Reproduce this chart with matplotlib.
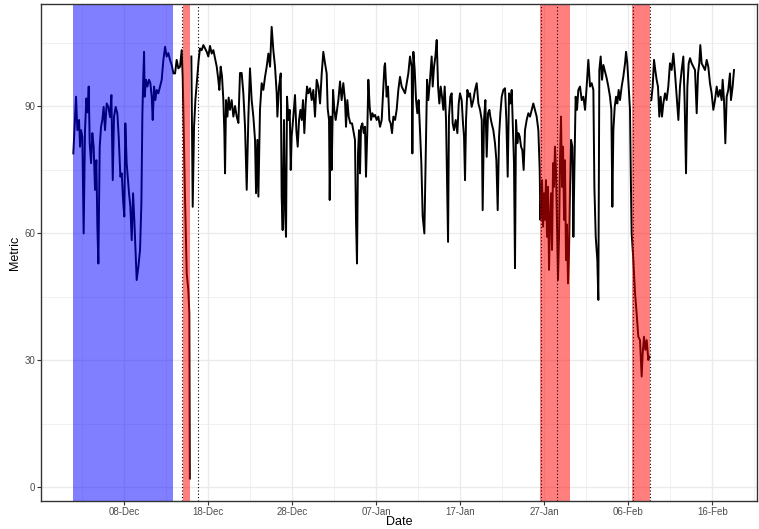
import matplotlib
matplotlib.use("Agg")
import matplotlib.pyplot as plt
import matplotlib.dates as mdates
import numpy as np
import pandas as pd

# time axis as days from 08-Dec, metric (nan = gap in series)
base_date = pd.Timestamp("2019-12-08")

day_offset = [
    -6.07, -5.75, -5.59, -5.39, -5.27, -5.15, -5.00, -4.84, -4.68, -4.52, -4.36, -4.24,
    -4.12, -3.96, -3.81, -3.65, -3.49, -3.33, -3.21, -3.09, -2.93, -2.77, -2.62, -2.46,
    -2.30, -2.10, -1.90, -1.70, -1.54, -1.38, -1.23, -1.03, -0.83, -0.67, -0.47, -0.31,
    -0.15, 0.00, 0.12, 0.28, 0.44, 0.56, 0.72, 0.88, 1.04, 1.19, 1.35, 1.47, 1.67, 1.87,
    2.03, 2.15, 2.27, 2.35, 2.42, 2.58, 2.74, 2.94, 3.10, 3.26, 3.38, 3.54, 3.69, 3.85,
    4.05, 4.25, 4.45, 4.65, 4.85, 5.04, 5.24, 5.44, 5.64, 5.84,
    6.04, 6.23, 6.43, 6.63, 6.83, 6.95, 7.23, 7.43, 7.62, 7.74, 7.80, 7.86,
    7.98, 8.14, 8.30, 8.46, 8.62, 8.85, 9.01, 9.21, 9.41, 9.61, 9.81, 10.00, 10.20, 10.40,
    10.60, 10.80, 11.00, 11.19, 11.31, 11.47, 11.63, 11.79, 11.91, 11.99, 12.11, 12.27,
    12.42, 12.58, 12.78, 12.98, 13.18, 13.38, 13.58, 13.77, 13.97, 14.17, 14.37, 14.57,
    14.77, 14.96, 15.16, 15.36, 15.56, 15.68, 15.84, 15.96, 16.15, 16.35, 16.55, 16.75,
    16.95, 17.15, 17.35, 17.54, 17.74, 17.94, 18.14, 18.22,
    18.42, 18.62, 18.73, 18.85, 19.01, 19.13, 19.25, 19.37, 19.53, 19.69, 19.81, 19.92,
    20.12, 20.32, 20.48, 20.64, 20.80, 20.96, 21.12, 21.27, 21.43, 21.59, 21.75, 21.91,
    22.11, 22.31, 22.50, 22.70, 22.90, 23.10, 23.30, 23.50, 23.69, 23.89, 24.09, 24.21,
    24.37, 24.45, 24.57, 24.69, 24.85, 25.00, 25.16, 25.32, 25.48, 25.68, 25.87, 26.07,
    26.27, 26.39, 26.55, 26.71, 26.91, 27.11, 27.31, 27.46, 27.58, 27.70, 27.82, 27.94,
    28.06, 28.18, 28.34, 28.50, 28.65, 28.77, 28.93, 29.05, 29.21, 29.37, 29.53, 29.69,
    29.85, 30.04, 30.24, 30.44, 30.64, 30.84, 30.96,
    31.04, 31.23, 31.39, 31.55, 31.71, 31.87, 32.03, 32.23, 32.42, 32.62, 32.82, 33.02,
    33.22, 33.42, 33.62, 33.81, 34.01, 34.21, 34.29, 34.41, 34.57, 34.73, 34.88, 35.04,
    35.20, 35.36, 35.52, 35.72, 35.88, 36.04, 36.19, 36.39, 36.59, 36.71, 36.87, 37.03,
    37.19, 37.35, 37.50, 37.66, 37.82, 37.98, 38.14, 38.30, 38.42, 38.54, 38.65, 38.81,
    38.97, 39.09, 39.25, 39.45, 39.65, 39.81, 39.96, 40.16, 40.32, 40.44, 40.56, 40.68,
    40.84, 41.00, 41.15, 41.35, 41.55, 41.75, 41.95, 42.15, 42.35, 42.55, 42.66, 42.82,
    42.98, 43.14, 43.30, 43.46,
    43.57, 43.73, 43.93, 44.13, 44.29, 44.45, 44.61, 44.77, 44.93, 45.12, 45.32, 45.48,
    45.64, 45.80, 45.96, 46.12, 46.27, 46.39, 46.51, 46.63, 46.79, 46.91, 47.07, 47.23,
    47.38, 47.54, 47.70, 47.90, 48.10, 48.30, 48.50, 48.69, 48.89, 49.09, 49.29, 49.45,
    49.53, 49.61, 49.73, 49.85, 49.96, 50.08, 50.20, 50.32, 50.44, 50.56, 50.68, 50.80,
    50.92, 51.04, 51.15, 51.27, 51.39, 51.51, 51.63, 51.75, 51.87, 51.99, 52.11, 52.23,
    52.35, 52.46, 52.58, 52.70, 52.82, 52.94, 53.06, 53.18, 53.34, 53.46, 53.58, 53.73,
    53.89, 54.05, 54.25, 54.45, 54.65,
    54.85, 55.04, 55.24, 55.44, 55.64, 55.84, 55.96, 56.12, 56.31, 56.43, 56.55, 56.71,
    56.87, 57.03, 57.23, 57.42, 57.62, 57.82, 57.98, 58.10, 58.22, 58.38, 58.54, 58.69,
    58.85, 59.01, 59.21, 59.41, 59.61, 59.73, 59.88, 60.04, 60.20, 60.32, 60.40, 60.60,
    60.80, 60.99, 61.19, 61.39, 61.59, 61.71, 61.87, 62.03, 62.19, 62.38, 62.50, 62.55,
    62.74, 62.90, 63.06, 63.21, 63.37, 63.53, 63.69, 63.85, 64.01, 64.17, 64.37, 64.56,
    64.76,
    64.96, 65.16, 65.36, 65.56, 65.76, 65.96, 66.15, 66.35, 66.55, 66.71, 66.87, 67.03,
    67.19, 67.35, 67.54, 67.74, 67.94, 68.14, 68.30, 68.45, 68.57, 68.73, 68.93, 69.13,
    69.33, 69.52, 69.72, 69.92, 70.12, 70.32, 70.52, 70.71, 70.91, 71.11, 71.23, 71.39,
    71.55, 71.71, 71.90, 72.10, 72.22, 72.42, 72.58,
]

metric = [
    78.8, 92.2, 84.3, 86.7, 80.4, 84.3, 82.8, 59.9, 84.3, 91.8, 88.5, 94.6,
    81.2, 76.5, 83.6, 80.4, 70.2, 77.2, 61.5, 52.8, 80.4, 85.1, 86.7, 89.8,
    84.3, 90.6, 89.8, 87.4, 92.6, 72.5, 87.4, 89.8, 88.2, 82.8, 73.3, 74.1,
    67.8, 63.9, 85.9, 76.5, 72.5, 69.4, 66.2, 58.3, 69.4, 63.1, 55.2, 48.9, 52.0, 56.0,
    67.0, 88.2, 97.7, 102.8, 92.2, 96.2, 94.6, 96.2, 95.4, 92.2, 86.7, 94.6, 91.4, 93.8,
    93.0, 94.6, 96.2, 100.9, 104.0, 101.7, 102.5, 100.9, 99.7, 97.7,
    97.7, 100.9, 98.9, 99.3, 103.2, 96.9, 67.8, 50.4, 46.5, 41.0, 2.0, np.nan,
    101.7, 66.2, 85.1, 91.4, 95.4, 100.9, 103.6, 103.2, 104.4, 103.6, 102.8, 101.7, 104.2, 102.4,
    103.2, 101.3, 99.3, 96.2, 93.8, 99.3, 97.0, 91.4, 83.6, 74.1, 91.4, 87.5,
    92.0, 89.1, 91.4, 87.5, 90.0, 87.5, 86.0, 97.8, 97.8, 93.0, 85.1, 70.2,
    87.5, 98.9, 91.4, 87.5, 82.0, 69.4, 82.0, 68.6, 89.1, 95.4, 93.8, 96.9,
    99.3, 102.4, 99.3, 108.7, 103.2, 99.3, 93.0, 87.5,
    94.6, 97.7, 68.6, 60.7, 86.7, 65.4, 59.1, 92.2, 86.7, 89.1, 74.9, 82.8,
    87.5, 92.6, 84.3, 80.4, 86.7, 89.1, 86.7, 91.4, 83.6, 90.6, 94.6, 93.0,
    94.2, 91.4, 93.8, 87.5, 96.2, 94.6, 90.6, 97.7, 102.8, 100.1, 97.7, 89.4,
    86.7, 67.8, 87.5, 74.9, 93.8, 89.1, 86.7, 89.1, 91.4, 95.8, 91.4, 95.4,
    91.4, 85.1, 91.4, 87.5, 85.9, 85.9, 83.6, 82.0, 63.1, 52.8, 78.8, 84.3,
    74.1, 85.1, 85.9, 83.6, 85.1, 73.3, 84.3, 96.2, 89.8, 86.7, 88.3, 87.5,
    87.9, 86.7, 87.5, 85.1, 86.7, 94.6, 99.3,
    100.1, 92.2, 94.6, 86.7, 85.9, 83.6, 87.5, 86.7, 89.1, 93.8, 96.9, 94.6,
    93.8, 93.0, 95.4, 97.7, 101.7, 99.3, 78.8, 102.8, 98.5, 91.4, 88.3, 91.4,
    84.3, 76.5, 63.9, 59.9, 78.8, 96.2, 91.4, 96.2, 101.7, 94.6, 99.3, 101.7,
    105.6, 94.6, 90.6, 94.6, 92.2, 89.1, 94.6, 86.7, 72.5, 57.9, 87.5, 92.2,
    93.0, 85.9, 84.3, 86.7, 83.6, 90.6, 93.0, 91.4, 85.9, 82.8, 72.5, 86.7,
    93.8, 92.2, 93.0, 89.8, 91.4, 93.8, 95.4, 90.6, 89.1, 86.7, 65.4, 86.7,
    91.4, 78.0, 88.3, 89.1,
    87.5, 85.9, 84.3, 81.2, 77.2, 65.4, 82.8, 88.3, 92.2, 93.8, 94.2, 86.7,
    73.3, 93.0, 90.6, 93.8, 84.3, 76.5, 51.7, 86.7, 81.2, 83.6, 82.8, 80.4,
    79.6, 74.9, 84.3, 86.7, 88.3, 87.5, 89.1, 90.6, 89.1, 87.5, 84.3, 74.9,
    63.1, 68.6, 72.5, 61.5, 69.4, 63.1, 72.5, 59.1, 70.9, 51.3, 63.1, 69.4,
    56.0, 76.5, 70.9, 80.4, 74.9, 61.5, 48.9, 59.1, 77.2, 87.5, 70.9, 80.4,
    63.1, 77.2, 53.6, 62.0, 48.1, 55.2, 70.9, 82.0, 80.4, 59.1, 74.9, 92.2,
    89.1, 93.8, 94.6, 91.4, 92.2,
    89.1, 94.6, 100.9, 94.6, 95.4, 93.8, 70.9, 59.1, 53.6, 44.2, 98.5, 101.7,
    96.2, 99.7, 98.1, 96.6, 94.6, 92.2, 89.1, 66.2, 84.3, 89.8, 92.2, 90.6,
    93.8, 91.4, 94.6, 97.0, 100.1, 102.8, 100.1, 94.6, 89.1, 70.2, 59.9, 53.6,
    45.8, 41.0, 35.5, 34.7, 26.1, 31.6, 35.5, 32.4, 34.7, 30.0, 30.8, np.nan,
    91.4, 94.6, 100.9, 98.5, 96.2, 94.6, 87.5, 92.2, 87.5, 90.6, 93.0, 91.4,
    94.6,
    100.1, 98.5, 102.4, 97.7, 92.2, 86.7, 94.6, 98.5, 101.7, 90.6, 74.1, 94.6,
    100.1, 101.3, 100.1, 99.3, 98.5, 88.3, 97.7, 100.1, 104.4, 100.1, 99.3, 98.5,
    100.9, 99.3, 95.4, 93.0, 89.1, 91.4, 94.6, 92.2, 93.8, 91.4, 96.2, 91.4,
    81.2, 92.2, 93.8, 97.7, 91.4, 94.6, 98.5,
]

# highlighted periods (days from 08-Dec)
blue_periods = [(-6.14, 5.76)]
red_periods = [(6.95, 7.82), (49.50, 53.05), (60.48, 62.58)]
marker_days = [6.83, 8.74, 49.57, 51.55, 60.52, 62.58]


def to_date(d):
    return base_date + pd.to_timedelta(d, unit="D")


dates = to_date(np.array(day_offset))

fig = plt.figure(figsize=(7.59, 5.29), dpi=100)
ax = fig.add_axes([41 / 759, 28 / 529, 716 / 759, 497 / 529])
ax.set_facecolor("white")

# grid like theme_bw
ax.set_axisbelow(True)
ax.grid(which="major", color="#EBEBEB", linewidth=1.0)
ax.grid(which="minor", color="#EBEBEB", linewidth=0.5)

ax.plot(dates, metric, color="black", linewidth=1.4, zorder=2)

for start, end in blue_periods:
    ax.axvspan(to_date(start), to_date(end), color="#0000FF", alpha=0.5, linewidth=0, zorder=3)
for start, end in red_periods:
    ax.axvspan(to_date(start), to_date(end), color="#FF0000", alpha=0.5, linewidth=0, zorder=3)
for d in marker_days:
    ax.axvline(to_date(d), color="black", linestyle=(0, (1, 2)), linewidth=0.8, zorder=4)

ax.set_xlim(to_date(-9.92), to_date(75.32))
ax.set_ylim(-3.3, 114.1)

ax.set_yticks([0, 30, 60, 90])
ax.set_yticks([15, 45, 75, 105], minor=True)
major_x = [to_date(d) for d in range(0, 71, 10)]
minor_x = [to_date(d) for d in range(-5, 76, 10)]
ax.set_xticks(major_x)
ax.set_xticks(minor_x, minor=True)
ax.xaxis.set_major_formatter(mdates.DateFormatter("%d-%b"))

ax.tick_params(which="major", length=2.8, width=0.8, color="#333333",
               labelsize=7, labelcolor="#4D4D4D", pad=1.5)
ax.tick_params(which="minor", length=0)
for lab in ax.get_xticklabels() + ax.get_yticklabels():
    lab.set_family("Liberation Sans")

for spine in ax.spines.values():
    spine.set_color("#333333")
    spine.set_linewidth(1.0)
    spine.set_zorder(5)

ax.set_xlabel("Date", fontsize=9, family="Liberation Sans")
ax.set_ylabel("Metric", fontsize=9, family="Liberation Sans")
ax.xaxis.set_label_coords(0.5, -0.031)
ax.yaxis.set_label_coords(-0.028, 0.5)

fig.savefig("out.png", dpi=100)
